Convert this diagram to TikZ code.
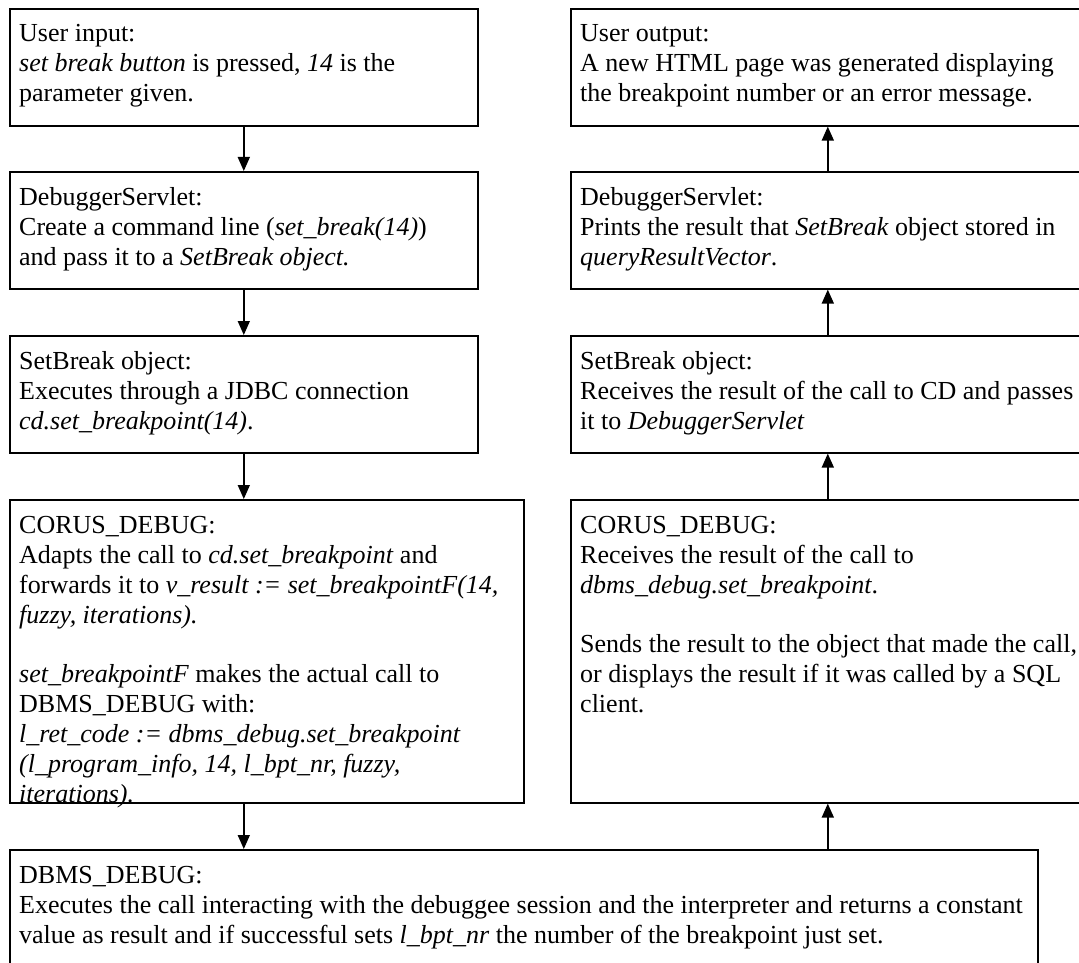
\documentclass[tikz,border=0pt]{standalone}
\usepackage{fontspec}
\setmainfont{Liberation Serif}
\usetikzlibrary{arrows.meta,calc}
% top-aligned text block used inside every panel
\newcommand\paneltext[1]{\parbox[t]{1060pt}{\fontsize{26pt}{30pt}\selectfont\raggedright #1}}
\begin{document}
\begin{tikzpicture}[x=1pt,y=1pt,
  panel/.style={draw, line width=1.6pt, rectangle, inner sep=0pt, anchor=north west},
  caption/.style={anchor=base west, inner sep=0pt},
  flow/.style={line width=1.6pt, -{Triangle[length=14pt,width=12pt]}}]
\useasboundingbox (0,0) rectangle (1079,-963);
\clip (0,0) rectangle (1079,-963);
\fill[white] (0,0) rectangle (1079,-963);

% left column: the call going down
\node[panel, minimum width=468pt, minimum height=117pt] (in)  at (9,-8)   {};
\node[panel, minimum width=468pt, minimum height=117pt] (ds1) at (9,-171) {};
\node[panel, minimum width=468pt, minimum height=117pt] (sb1) at (9,-335) {};
\node[panel, minimum width=514pt, minimum height=303pt] (cd1) at (9,-499) {};
% bottom panel
\node[panel, minimum width=1028pt, minimum height=200pt] (dbms) at (9,-849) {};
% right column: the result going up
\node[panel, minimum width=514pt, minimum height=117pt] (out) at (570,-8)   {};
\node[panel, minimum width=514pt, minimum height=117pt] (ds2) at (570,-171) {};
\node[panel, minimum width=514pt, minimum height=117pt] (sb2) at (570,-335) {};
\node[panel, minimum width=514pt, minimum height=303pt] (cd2) at (570,-499) {};

\node[caption] (inT) at ($(in.north west)+(10,-34)$) {\paneltext{User input:\\
\textit{set break button} is pressed, \textit{14} is the\\
parameter given.}};
\node[caption] (ds1T) at ($(ds1.north west)+(10,-34)$) {\paneltext{DebuggerServlet:\\
Create a command line (\textit{set\_break(14)})\\
and pass it to a \textit{SetBreak object.}}};
\node[caption] (sb1T) at ($(sb1.north west)+(10,-34)$) {\paneltext{SetBreak object:\\
Executes through a JDBC connection\\
\textit{cd.set\_breakpoint(14)}.}};
\node[caption] (cd1T) at ($(cd1.north west)+(10,-34)$) {\paneltext{CORUS\_DEBUG:\\
Adapts the call to \textit{cd.set\_breakpoint} and\\
forwards it to \textit{v\_result := set\_breakpointF(14,}\\
\textit{fuzzy, iterations).}\\[29pt]
\textit{set\_breakpointF} makes the actual call to\\
DBMS\_DEBUG with:\\
\textit{l\_ret\_code := dbms\_debug.set\_breakpoint}\\
\textit{(l\_program\_info, 14, l\_bpt\_nr, fuzzy,}\\
\textit{iterations).}}};
\node[caption] (dbmsT) at ($(dbms.north west)+(10,-34)$) {\paneltext{DBMS\_DEBUG:\\
Executes the call interacting with the debuggee session and the interpreter and returns a constant\\
value as result and if successful sets \textit{l\_bpt\_nr} the number of the breakpoint just set.}};
\node[caption] (outT) at ($(out.north west)+(10,-34)$) {\paneltext{User output:\\
A new HTML page was generated displaying\\
the breakpoint number or an error message.}};
\node[caption] (ds2T) at ($(ds2.north west)+(10,-34)$) {\paneltext{DebuggerServlet:\\
Prints the result that \textit{SetBreak} object stored in\\
\textit{queryResultVector}.}};
\node[caption] (sb2T) at ($(sb2.north west)+(10,-34)$) {\paneltext{SetBreak object:\\
Receives the result of the call to CD and passes\\
it to \textit{DebuggerServlet}}};
\node[caption] (cd2T) at ($(cd2.north west)+(10,-34)$) {\paneltext{CORUS\_DEBUG:\\
Receives the result of the call to\\
\textit{dbms\_debug.set\_breakpoint}.\\[29pt]
Sends the result to the object that made the call,\\
or displays the result if it was called by a SQL\\
client.}};

% downward flow
\draw[flow] (in.south) -- (ds1.north);
\draw[flow] (ds1.south) -- (sb1.north);
\draw[flow] (sb1.south) -- (sb1.south |- cd1.north);
\draw[flow] (sb1.south |- cd1.south) -- (sb1.south |- dbms.north);
% upward flow
\draw[flow] (cd2.south |- dbms.north) -- (cd2.south);
\draw[flow] (cd2.north) -- (sb2.south);
\draw[flow] (sb2.north) -- (ds2.south);
\draw[flow] (ds2.north) -- (out.south);
\end{tikzpicture}
\end{document}
